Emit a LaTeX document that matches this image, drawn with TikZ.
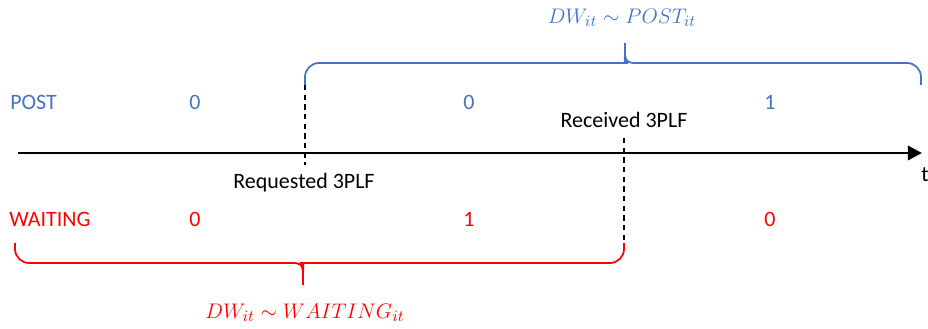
\documentclass[tikz,border=0pt]{standalone}
\usepackage{amsmath, amssymb}
\usepackage{fontspec}
\setmainfont{Carlito}
\usetikzlibrary{arrows.meta}
\definecolor{postblue}{RGB}{68,114,196}
\definecolor{waitred}{RGB}{255,0,0}

\begin{document}
\begin{tikzpicture}[x = 0.02cm, y = 0.02cm]
\tikzstyle{LabelStyle}=[inner sep = 0pt,
                        font = \fontsize{12.5}{15}\selectfont]
\tikzstyle{PostStyle}=[LabelStyle, text = postblue]
\tikzstyle{WaitStyle}=[LabelStyle, text = waitred]
\tikzstyle{EventLine}=[black, dashed, line width = 0.9pt,
                       dash pattern = on 3pt off 2.5pt]
\tikzstyle{BraceLine}=[line width = 1pt, rounded corners = 8]
\useasboundingbox (0, 0) rectangle (928, 328);
% time axis
\coordinate (t0) at (18, 175);
\coordinate (t1) at (922, 175);
\draw[line width = 1.7pt, -{Triangle[length = 8pt, width = 8pt]}] (t0) -- (t1);
\node[LabelStyle] (t) at (925, 153) {t};
% rows
\node[PostStyle, anchor = west] (post) at (10, 226) {POST};
\node[PostStyle] (p0) at (195, 226) {0};
\node[PostStyle] (p1) at (469, 226) {0};
\node[PostStyle] (p2) at (770, 226) {1};
\node[WaitStyle, anchor = west] (wait) at (9, 109) {WAITING};
\node[WaitStyle] (w0) at (195, 109) {0};
\node[WaitStyle] (w1) at (469, 109) {1};
\node[WaitStyle] (w2) at (770, 109) {0};
% events
\coordinate (req top) at (305, 243);
\coordinate (req bot) at (305, 163);
\coordinate (rec top) at (624, 190);
\coordinate (rec bot) at (624, 85);
\draw[EventLine] (req top) -- (req bot);
\draw[EventLine] (rec top) -- (rec bot);
\node[LabelStyle] (req) at (304, 145) {Requested 3PLF};
\node[LabelStyle] (rec) at (624, 208) {Received 3PLF};
% braces
\coordinate (post end) at (921, 243);
\coordinate (wait start) at (15, 85);
\draw[BraceLine, postblue] (req top) |- (614, 265) [sharp corners]
  .. controls (623, 265) and (625, 267) .. (625, 276) -- (625, 285)
  (625, 276) .. controls (625, 267) and (627, 265) .. (636, 265)
  [rounded corners = 8] -| (post end);
\draw[BraceLine, waitred] (rec bot) |- (314, 65) [sharp corners]
  .. controls (305, 65) and (303, 63) .. (303, 54) -- (303, 43)
  (303, 54) .. controls (303, 63) and (301, 65) .. (292, 65)
  [rounded corners = 8] -| (wait start);
\node[PostStyle] (post eq) at (622, 310) {$DW_{it} \sim POST_{it}$};
\node[WaitStyle] (wait eq) at (305, 15) {$DW_{it} \sim WAITING_{it}$};
\end{tikzpicture}
\end{document}
